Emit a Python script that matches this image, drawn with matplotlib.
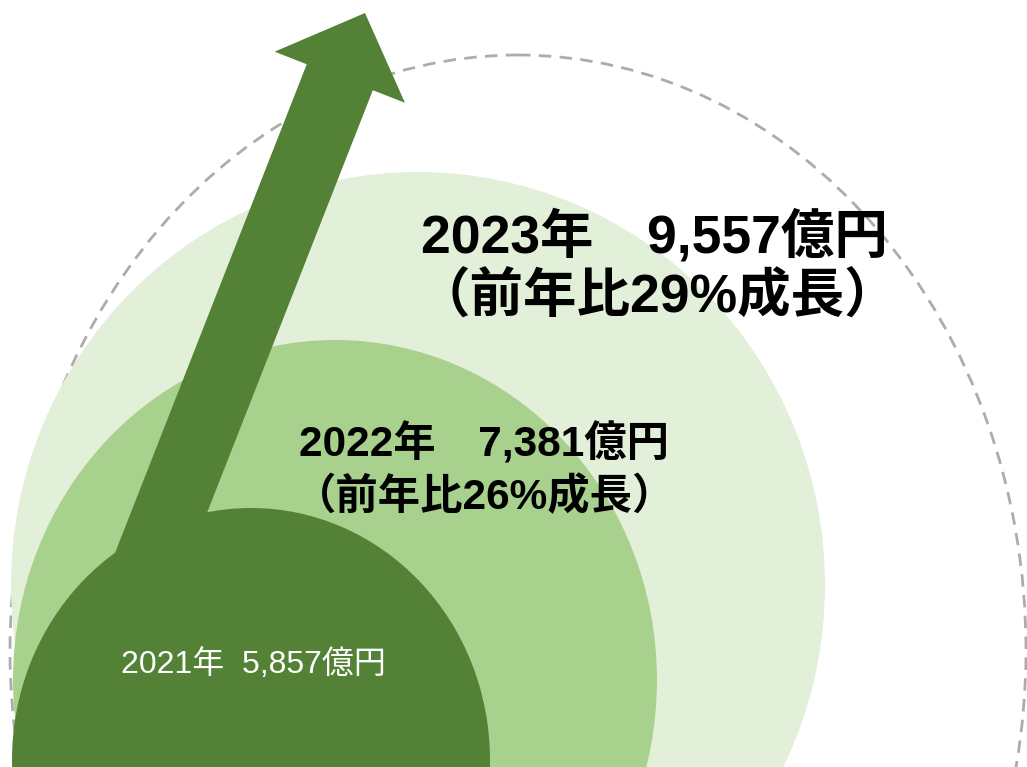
import matplotlib
matplotlib.use("Agg")
import matplotlib.pyplot as plt
from matplotlib.patches import Ellipse, FancyArrow

# market size by year (億円) and growth vs previous year (%)
years = [2021, 2022, 2023]
sales = [5857, 7381, 9557]
growth = [None, 26, 29]

W, H = 1027, 767
dark = "#538135"
mid = "#A9D18E"
light = "#E2EFD9"
dash_grey = "#AFABAB"

fonts = ["Liberation Sans", "Noto Sans CJK JP", "DejaVu Sans"]

fig = plt.figure(figsize=(W / 100, H / 100), dpi=100)
ax = fig.add_axes([0, 0, 1, 1])
ax.set_xlim(0, W)
ax.set_ylim(H, 0)
ax.set_aspect("equal")
ax.axis("off")

# outer dashed ring, sits behind the filled discs
ax.add_patch(Ellipse((518, 650), 1016, 1190, fill=False, edgecolor=dash_grey,
                     linewidth=2.0, linestyle=(0, (4.5, 3)), zorder=1))

# one disc per year, largest first
discs = [((418, 585), 814, 826, light),
         ((335, 680), 644, 680, mid),
         ((251, 760), 478, 504, dark)]
for (cx, cy), w, h, c in discs:
    ax.add_patch(Ellipse((cx, cy), w, h, facecolor=c, edgecolor="none", zorder=2))

# growth arrow rising out of the 2021 disc
tip = (365, 13)
base = (119, 640)
ax.add_patch(FancyArrow(base[0], base[1], tip[0] - base[0], tip[1] - base[1],
                        width=71, head_width=140, head_length=69,
                        length_includes_head=True, facecolor=dark,
                        edgecolor="none", zorder=3))

# labels
ax.text(253, 665, f"{years[0]}年  {sales[0]:,}億円", color="white",
        fontsize=23, family=fonts, ha="center", va="center", zorder=5)

ax.text(484, 444, f"{years[1]}年　{sales[1]:,}億円", color="black",
        fontsize=30.5, fontweight="bold", family=fonts, ha="center", va="center", zorder=5)
ax.text(485, 497, f"（前年比{growth[1]}%成長）", color="black",
        fontsize=30.5, fontweight="bold", family=fonts, ha="center", va="center", zorder=5)

ax.text(654, 237, f"{years[2]}年　{sales[2]:,}億円", color="black",
        fontsize=38.5, fontweight="bold", family=fonts, ha="center", va="center", zorder=5)
ax.text(657, 298, f"（前年比{growth[2]}%成長）", color="black",
        fontsize=38.5, fontweight="bold", family=fonts, ha="center", va="center", zorder=5)

fig.savefig("out.png", dpi=100, facecolor="white")
